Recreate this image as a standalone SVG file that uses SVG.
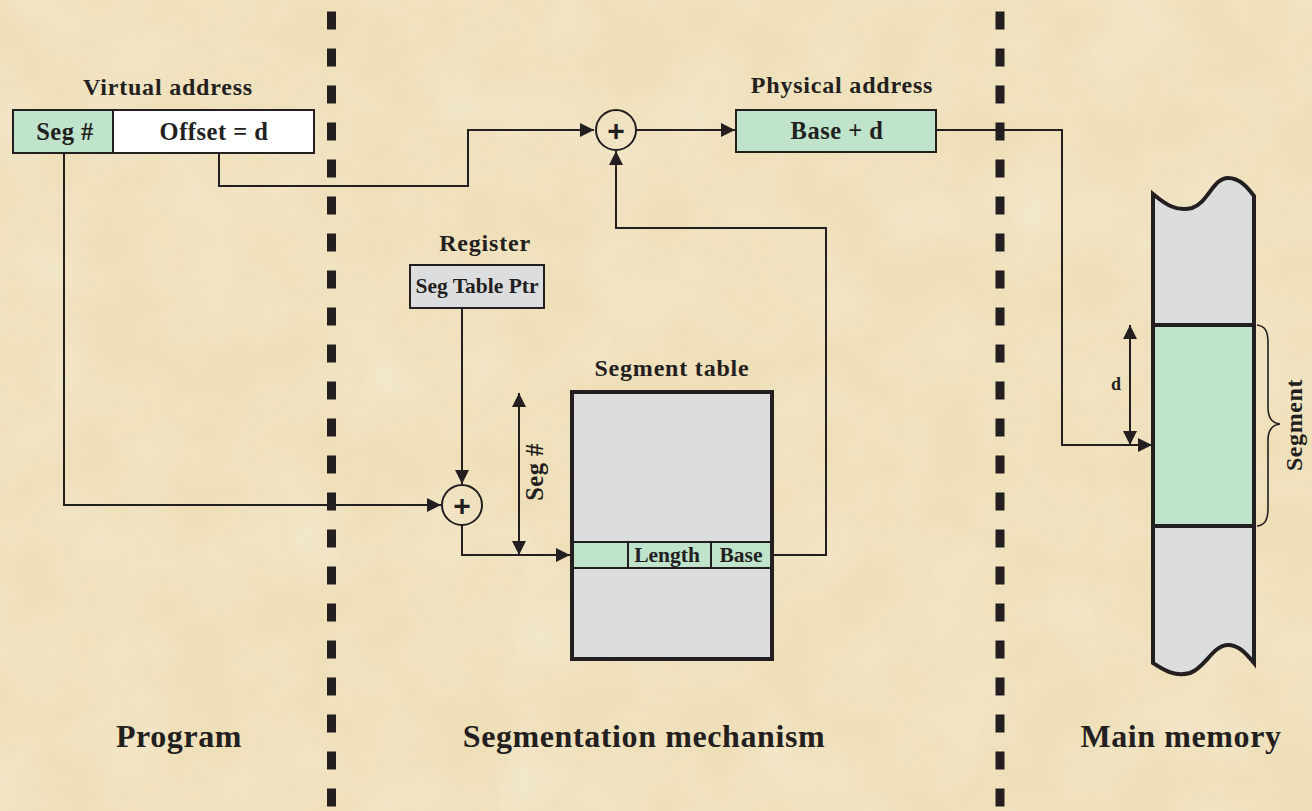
<svg xmlns="http://www.w3.org/2000/svg" width="1312" height="811" viewBox="0 0 1312 811">
<defs>
<filter id="tex" x="0" y="0" width="100%" height="100%">
<feTurbulence type="fractalNoise" baseFrequency="0.012" numOctaves="4" seed="7" result="n"/>
<feColorMatrix in="n" type="matrix" values="0 0 0 0 0.91  0 0 0 0 0.82  0 0 0 0 0.64  0 0 0 1.4 -0.45" result="c"/>
<feComposite in="c" in2="SourceGraphic" operator="in"/>
</filter>
<marker id="ah" viewBox="0 0 10 10" refX="10" refY="5" markerWidth="14" markerHeight="14" markerUnits="userSpaceOnUse" orient="auto">
<path d="M0,0 L10,5 L0,10 z" fill="#231f20"/>
</marker>
<marker id="ahs" viewBox="0 0 10 10" refX="10" refY="5" markerWidth="14" markerHeight="14" markerUnits="userSpaceOnUse" orient="auto-start-reverse">
<path d="M0,0 L10,5 L0,10 z" fill="#231f20"/>
</marker>
</defs>
<style>
text{font-family:"Liberation Serif","Times New Roman",serif;font-weight:bold;fill:#231f20}
.lbl{font-size:24px;letter-spacing:0.8px}
.in{font-size:24.5px;letter-spacing:0.5px}
.sm{font-size:21.5px}
.big{font-size:32px;letter-spacing:0.6px}
.ln{fill:none;stroke:#231f20;stroke-width:2}
.box{stroke:#231f20;stroke-width:2}
.green{fill:#bfe3cb}
.grey{fill:#dcdddf}
.div{stroke:#231f20;stroke-width:9;stroke-dasharray:18 19}
.plus{font-family:"Liberation Sans",Arial,sans-serif;font-size:30px}
</style>
<rect width="1312" height="811" fill="#efdfb8"/>
<rect width="1312" height="811" fill="#efdfb8" filter="url(#tex)" opacity="0.9"/>

<g id="dividers">
<line class="div" x1="331.5" y1="11.5" x2="331.5" y2="811"/>
<line class="div" x1="1000" y1="11.5" x2="1000" y2="811"/>
</g>

<g id="connectors">
<polyline class="ln" points="64,153 64,505 441,505" marker-end="url(#ah)"/>
<polyline class="ln" points="219,153 219,186 468,186 468,130 594,130" marker-end="url(#ah)"/>
<line class="ln" x1="636" y1="130" x2="735" y2="130" marker-end="url(#ah)"/>
<polyline class="ln" points="773,555 826,555 826,228 616,228 616,151" marker-end="url(#ah)"/>
<line class="ln" x1="462" y1="308" x2="462" y2="484" marker-end="url(#ah)"/>
<polyline class="ln" points="462,525 462,555 570,555" marker-end="url(#ah)"/>
<line class="ln" x1="519" y1="393" x2="519" y2="555" marker-start="url(#ahs)" marker-end="url(#ah)"/>
<polyline class="ln" points="936,130 1062,130 1062,445 1152,445" marker-end="url(#ah)"/>
<line class="ln" x1="1130" y1="325" x2="1130" y2="445" marker-start="url(#ahs)" marker-end="url(#ah)"/>
</g>

<g id="virtual-address">
<text class="lbl" x="168" y="95" text-anchor="middle">Virtual address</text>
<rect class="box green" x="13" y="110" width="100" height="43"/>
<rect class="box" x="113" y="110" width="201" height="43" fill="#ffffff"/>
<text class="in" x="65" y="140" text-anchor="middle">Seg #</text>
<text class="in" x="214" y="140" text-anchor="middle">Offset = d</text>
</g>

<g id="adder-top">
<circle class="box" cx="616" cy="130" r="20" fill="none"/>
<text class="plus" x="616" y="140.5" text-anchor="middle">+</text>
</g>

<g id="physical-address">
<text class="lbl" x="842" y="93" text-anchor="middle">Physical address</text>
<rect class="box green" x="736" y="110" width="200" height="42"/>
<text class="in" x="837" y="139" text-anchor="middle">Base + d</text>
</g>

<g id="register">
<text class="lbl" x="485" y="251" text-anchor="middle">Register</text>
<rect class="box grey" x="410" y="265" width="134" height="43"/>
<text class="sm" x="477" y="293" text-anchor="middle">Seg Table Ptr</text>
</g>

<g id="adder-bottom">
<circle class="box" cx="462" cy="505" r="20" fill="none"/>
<text class="plus" x="462" y="515.5" text-anchor="middle">+</text>
</g>

<g id="seg-label">
<text class="in" transform="translate(543,472) rotate(-90)" text-anchor="middle">Seg #</text>
</g>

<g id="segment-table">
<text class="lbl" x="672" y="376" text-anchor="middle">Segment table</text>
<rect x="572" y="392" width="200" height="267" class="grey" stroke="#231f20" stroke-width="4"/>
<rect x="572" y="542" width="200" height="26" class="green" stroke="#231f20" stroke-width="2"/>
<line class="ln" x1="628" y1="542" x2="628" y2="568"/>
<line class="ln" x1="711" y1="542" x2="711" y2="568"/>
<rect x="572" y="392" width="200" height="267" fill="none" stroke="#231f20" stroke-width="4"/>
<text class="sm" x="667" y="562" text-anchor="middle">Length</text>
<text class="sm" x="741" y="562" text-anchor="middle">Base</text>
</g>

<g id="main-memory">
<path class="grey" d="M1153,194 C1165,204 1176,212 1192,208 C1208,203 1213,178 1228,178 C1240,178 1248,188 1254,196 L1254,663 C1248,656 1240,645 1228,645 C1213,645 1205,668 1190,673 C1174,677 1164,670 1153,663 Z"/>
<rect x="1153" y="325" width="101" height="201" class="green"/>
<path d="M1153,194 C1165,204 1176,212 1192,208 C1208,203 1213,178 1228,178 C1240,178 1248,188 1254,196 L1254,663 C1248,656 1240,645 1228,645 C1213,645 1205,668 1190,673 C1174,677 1164,670 1153,663 Z" fill="none" stroke="#231f20" stroke-width="4"/>
<line x1="1153" y1="325" x2="1254" y2="325" stroke="#231f20" stroke-width="4"/>
<line x1="1153" y1="526" x2="1254" y2="526" stroke="#231f20" stroke-width="4"/>
<text x="1116" y="390" text-anchor="middle" style="font-size:18px">d</text>
<path class="ln" style="stroke-width:1.6" d="M1257,325 C1265,326 1268,331 1268,343 L1268,408 C1268,418 1272,423 1280,424 C1272,425 1268,430 1268,440 L1268,508 C1268,520 1265,525 1257,526"/>
<text transform="translate(1302,425) rotate(-90)" text-anchor="middle" style="font-size:24px;letter-spacing:0.6px">Segment</text>
</g>

<g id="section-labels">
<text class="big" x="179" y="747" text-anchor="middle">Program</text>
<text class="big" x="644" y="747" text-anchor="middle">Segmentation mechanism</text>
<text class="big" x="1181" y="747" text-anchor="middle">Main memory</text>
</g>
</svg>
